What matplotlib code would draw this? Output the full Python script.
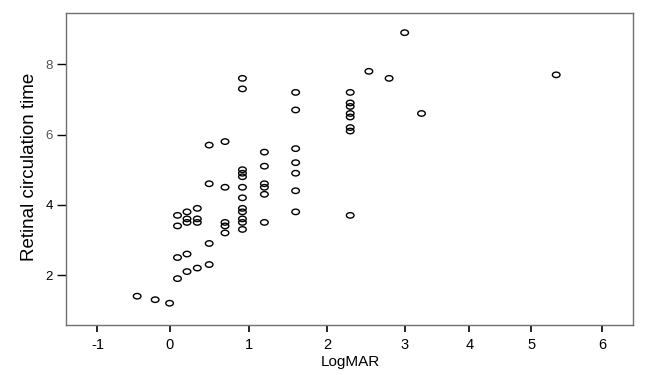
import numpy as np
import matplotlib
matplotlib.use("Agg")
import matplotlib.pyplot as plt
from matplotlib.path import Path

# LogMAR (x) and retinal circulation time (y)
logmar = [-0.45, -0.2, 0.0,
          0.1, 0.1, 0.1, 0.1,
          0.22, 0.22, 0.22, 0.22, 0.22,
          0.35, 0.35, 0.35, 0.35,
          0.5, 0.5, 0.5, 0.5,
          0.7, 0.7, 0.7, 0.7, 0.7,
          0.92, 0.92, 0.92, 0.92, 0.92, 0.92, 0.92, 0.92, 0.92, 0.92, 0.92, 0.92,
          1.2, 1.2, 1.2, 1.2, 1.2, 1.2,
          1.6, 1.6, 1.6, 1.6, 1.6, 1.6, 1.6,
          2.3, 2.3, 2.3, 2.3, 2.3, 2.3, 2.3, 2.3,
          2.54, 2.8, 3.0, 3.26, 5.35]
rct = [1.4, 1.3, 1.2,
       1.9, 2.5, 3.4, 3.7,
       2.1, 2.6, 3.5, 3.6, 3.8,
       2.2, 3.5, 3.6, 3.9,
       2.3, 2.9, 4.6, 5.7,
       3.2, 3.4, 3.5, 4.5, 5.8,
       3.3, 3.5, 3.6, 3.8, 3.9, 4.2, 4.5, 4.8, 4.9, 5.0, 7.3, 7.6,
       3.5, 4.3, 4.5, 4.6, 5.1, 5.5,
       3.8, 4.4, 4.9, 5.2, 5.6, 6.7, 7.2,
       3.7, 6.1, 6.2, 6.5, 6.6, 6.8, 6.9, 7.2,
       7.8, 7.6, 8.9, 6.6, 7.7]

x_ticks = [-1, 0, 1, 2, 3, 4, 5, 6]
y_ticks = [2, 4, 6, 8]

# the original x axis is unevenly spaced between ticks, so map it piecewise
knot_vals = np.array([-20, -1, 0, 1, 2, 3, 4, 5, 6, 30])
knot_pos = np.array([-1349, 96, 168.3, 247.7, 326, 404, 469, 531, 602.3, 2313])

def fwd(v):
    return np.interp(v, knot_vals, knot_pos)

def inv(p):
    return np.interp(p, knot_pos, knot_vals)

plt.rcParams["font.family"] = ["Liberation Sans", "DejaVu Sans"]

fig = plt.figure(figsize=(6.48, 3.75), dpi=100)
ax = fig.add_axes([66 / 648, 1 - 325 / 375, 567 / 648, 312 / 375])

# slightly flattened open circle, like the SPSS marker
circ = Path.unit_circle()
ellipse = Path(circ.vertices * [1, 0.72], circ.codes)

ax.scatter(logmar, rct, marker=ellipse, s=30, facecolors="none",
           edgecolors="black", linewidths=1.0)

ax.set_xscale("function", functions=(fwd, inv))
ax.set_xlim(-1.415, 6.43)
ax.set_ylim(0.58, 9.46)

ax.set_xticks(x_ticks)
ax.set_xticklabels([str(t) for t in x_ticks])
ax.set_yticks(y_ticks)
ax.set_yticklabels([str(t) for t in y_ticks])
ax.minorticks_off()

ax.tick_params(axis="x", direction="out", length=5, width=1.2, pad=4.5, labelsize=10.5)
ax.tick_params(axis="y", direction="out", length=6.5, width=1, pad=3, labelsize=9.5)
for lab in ax.get_yticklabels():
    if lab.get_text() in ("6", "8"):
        lab.set_color("#555555")

for sp in ax.spines.values():
    sp.set_color("#707070")
    sp.set_linewidth(1)

fig.text(30 / 648, 1 - 166.5 / 375, "Retinal circulation time", rotation=90,
         ha="center", va="center", fontsize=13.5)
fig.text(350 / 648, 1 - 362 / 375, "LogMAR", ha="center", va="center", fontsize=11)

fig.savefig("out.png", dpi=100)
